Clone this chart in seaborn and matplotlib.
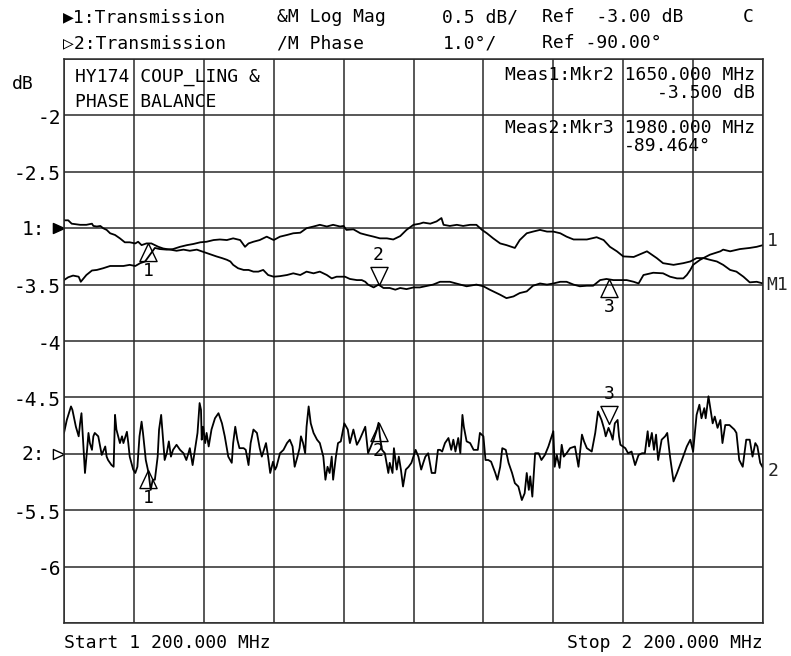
import numpy as np
import pandas as pd
import matplotlib
matplotlib.use("Agg")
import matplotlib.pyplot as plt
import matplotlib.transforms as mtransforms
import seaborn as sns

# ---------------- data ----------------
# Trace 1: transmission log magnitude (dB)
t1_freq = [1200, 1206, 1211, 1223, 1232, 1240, 1242, 1247, 1252, 1256, 1261, 1266, 1273, 1280,
           1287, 1294, 1302, 1306, 1311, 1318, 1325, 1330, 1335, 1342, 1352, 1361, 1371, 1380,
           1390, 1397, 1404, 1411, 1418, 1426, 1433, 1438, 1442, 1449, 1457, 1464, 1471, 1478,
           1485, 1492, 1500, 1509, 1519, 1528, 1538, 1547, 1557, 1566, 1576, 1583, 1590, 1597,
           1602, 1609, 1619, 1626, 1631, 1635, 1643, 1650, 1657, 1666, 1674, 1681, 1690, 1700,
           1709, 1728, 1738, 1752, 1767, 1776, 1790, 1800, 1809, 1824, 1833, 1843, 1852, 1862,
           1871, 1881, 1891, 1900, 1910, 1919, 1929, 1938, 1948, 1957, 1967, 1976, 1986, 1995,
           2005, 2015, 2022, 2029, 2043, 2057, 2067, 2077, 2086, 2091, 2096, 2100, 2110, 2124,
           2139, 2143, 2153, 2167, 2181, 2191, 2200]
t1_db = [-2.93, -2.93, -2.96, -2.97, -2.97, -2.96, -2.98, -2.985, -2.98, -3.00, -3.015, -3.045,
         -3.06, -3.09, -3.125, -3.125, -3.135, -3.12, -3.15, -3.135, -3.135, -3.15, -3.165, -3.18,
         -3.19, -3.20, -3.19, -3.20, -3.19, -3.205, -3.22, -3.235, -3.25, -3.265, -3.28, -3.295,
         -3.325, -3.355, -3.37, -3.37, -3.385, -3.385, -3.37, -3.415, -3.43, -3.425, -3.415, -3.40,
         -3.415, -3.385, -3.40, -3.385, -3.415, -3.445, -3.43, -3.43, -3.43, -3.45, -3.46, -3.46,
         -3.475, -3.50, -3.525, -3.50, -3.53, -3.53, -3.545, -3.53, -3.54, -3.525, -3.525, -3.50,
         -3.475, -3.475, -3.50, -3.515, -3.50, -3.515, -3.545, -3.59, -3.62, -3.605, -3.575, -3.56,
         -3.51, -3.49, -3.50, -3.49, -3.475, -3.475, -3.50, -3.515, -3.51, -3.51, -3.46, -3.45,
         -3.46, -3.46, -3.46, -3.475, -3.49, -3.415, -3.395, -3.40, -3.43, -3.445, -3.445, -3.415,
         -3.37, -3.325, -3.28, -3.235, -3.205, -3.19, -3.205, -3.185, -3.175, -3.165, -3.15]

# Memory trace M1 (dB)
m1_freq = [1200, 1206, 1213, 1221, 1224, 1228, 1232, 1240, 1247, 1256, 1266, 1275, 1285, 1294,
           1302, 1309, 1316, 1323, 1330, 1337, 1347, 1356, 1366, 1376, 1385, 1395, 1404, 1414,
           1423, 1433, 1442, 1452, 1459, 1464, 1471, 1480, 1490, 1500, 1509, 1519, 1528, 1538,
           1547, 1557, 1566, 1576, 1585, 1595, 1600, 1604, 1614, 1624, 1633, 1643, 1652, 1662,
           1671, 1681, 1690, 1700, 1709, 1714, 1724, 1733, 1740, 1743, 1752, 1762, 1771, 1781,
           1790, 1798, 1805, 1814, 1824, 1833, 1845, 1852, 1862, 1871, 1881, 1891, 1900, 1910,
           1919, 1929, 1948, 1962, 1972, 1981, 1991, 2000, 2015, 2034, 2048, 2057, 2072, 2086,
           2096, 2105, 2115, 2124, 2134, 2143, 2153, 2162, 2172, 2181, 2191, 2200]
m1_db = [-3.46, -3.435, -3.42, -3.43, -3.475, -3.445, -3.415, -3.375, -3.37, -3.355, -3.335,
         -3.335, -3.335, -3.325, -3.335, -3.31, -3.295, -3.235, -3.175, -3.185, -3.19, -3.185,
         -3.165, -3.15, -3.14, -3.125, -3.12, -3.105, -3.10, -3.105, -3.09, -3.105, -3.165, -3.135,
         -3.12, -3.105, -3.075, -3.105, -3.075, -3.06, -3.045, -3.04, -3.00, -2.985, -2.97, -2.985,
         -2.97, -2.985, -2.98, -3.015, -3.01, -3.045, -3.06, -3.075, -3.09, -3.09, -3.10, -3.07,
         -3.015, -2.97, -2.96, -2.95, -2.96, -2.94, -2.91, -2.97, -2.98, -2.97, -2.98, -2.97,
         -2.97, -3.015, -3.045, -3.09, -3.135, -3.15, -3.175, -3.105, -3.045, -3.03, -3.015, -3.03,
         -3.03, -3.045, -3.075, -3.10, -3.10, -3.08, -3.105, -3.165, -3.205, -3.25, -3.255, -3.205,
         -3.265, -3.31, -3.325, -3.31, -3.295, -3.265, -3.265, -3.28, -3.295, -3.325, -3.37,
         -3.385, -3.43, -3.48, -3.475, -3.49]

# Trace 2: transmission phase (degrees)
t2_freq = [1200, 1204, 1210, 1212, 1217, 1221, 1223, 1225, 1228, 1230, 1233, 1235, 1237, 1240,
           1242, 1244, 1249, 1254, 1259, 1261, 1263, 1268, 1271, 1273, 1275, 1280, 1283, 1285,
           1290, 1292, 1294, 1299, 1302, 1305, 1308, 1311, 1313, 1317, 1321, 1324, 1327, 1330,
           1334, 1336, 1339, 1341, 1344, 1347, 1350, 1353, 1356, 1361, 1366, 1371, 1375, 1378,
           1380, 1384, 1387, 1391, 1394, 1396, 1397, 1399, 1402, 1404, 1407, 1411, 1416, 1421,
           1426, 1430, 1435, 1440, 1442, 1445, 1448, 1451, 1457, 1460, 1464, 1467, 1471, 1476,
           1480, 1483, 1486, 1489, 1492, 1495, 1499, 1502, 1504, 1509, 1514, 1519, 1523, 1527,
           1530, 1534, 1537, 1539, 1542, 1545, 1547, 1550, 1553, 1557, 1562, 1566, 1571, 1574,
           1577, 1580, 1583, 1585, 1589, 1592, 1596, 1601, 1606, 1609, 1614, 1619, 1623, 1631,
           1635, 1639, 1643, 1647, 1650, 1652, 1655, 1659, 1664, 1666, 1670, 1672, 1676, 1679,
           1682, 1685, 1689, 1693, 1697, 1703, 1707, 1711, 1714, 1717, 1721, 1726, 1731, 1735,
           1738, 1741, 1745, 1750, 1754, 1757, 1760, 1764, 1767, 1770, 1772, 1776, 1781, 1786,
           1792, 1795, 1800, 1803, 1807, 1811, 1817, 1820, 1824, 1827, 1832, 1836, 1841, 1845,
           1850, 1855, 1859, 1862, 1865, 1867, 1870, 1874, 1879, 1883, 1888, 1893, 1900, 1902,
           1905, 1909, 1912, 1915, 1919, 1924, 1931, 1936, 1941, 1944, 1948, 1955, 1960, 1964,
           1969, 1973, 1975, 1979, 1982, 1985, 1988, 1992, 1994, 1996, 2003, 2007, 2012, 2017,
           2022, 2027, 2031, 2035, 2037, 2041, 2044, 2047, 2050, 2055, 2060, 2063, 2067, 2072,
           2077, 2084, 2091, 2096, 2100, 2103, 2105, 2109, 2112, 2116, 2118, 2122, 2125, 2128,
           2131, 2135, 2139, 2142, 2146, 2152, 2159, 2162, 2166, 2171, 2176, 2181, 2185, 2189,
           2192, 2196, 2200]
t2_deg = [-89.63, -89.40, -89.16, -89.22, -89.52, -89.69, -89.46, -89.28, -89.93, -90.34, -89.93,
          -89.63, -89.81, -89.93, -89.69, -89.63, -89.69, -90.02, -89.87, -90.05, -90.11, -90.20,
          -90.23, -89.31, -89.57, -89.81, -89.69, -89.81, -89.61, -89.81, -90.05, -90.28, -90.34,
          -90.23, -89.69, -89.43, -89.63, -90.11, -90.34, -90.64, -90.46, -90.46, -90.05, -89.57,
          -89.31, -89.63, -90.11, -89.99, -89.78, -90.05, -89.93, -89.84, -89.93, -89.99, -90.11,
          -89.99, -89.90, -90.20, -89.96, -89.63, -89.10, -89.22, -89.75, -89.52, -89.81, -89.63,
          -89.87, -89.57, -89.37, -89.28, -89.46, -89.69, -90.05, -90.16, -89.81, -89.52, -89.75,
          -89.90, -89.90, -89.93, -90.20, -89.81, -89.57, -89.63, -89.90, -90.05, -89.93, -89.81,
          -90.05, -90.34, -90.14, -90.28, -90.23, -89.99, -89.93, -89.81, -89.75, -89.87, -90.23,
          -90.05, -89.90, -89.69, -89.81, -89.99, -89.52, -89.16, -89.46, -89.63, -89.75, -89.81,
          -90.05, -90.46, -90.23, -90.34, -90.05, -90.46, -90.05, -89.81, -89.78, -89.46, -89.57,
          -89.81, -89.57, -89.84, -89.75, -89.52, -89.99, -89.87, -89.75, -89.60, -89.45, -89.70,
          -89.93, -89.99, -90.34, -90.16, -90.34, -89.90, -90.28, -90.05, -90.28, -90.58, -90.28,
          -90.23, -90.16, -89.93, -90.05, -90.28, -90.16, -90.05, -89.99, -90.34, -90.34, -89.93,
          -89.93, -89.96, -89.81, -89.72, -89.93, -89.75, -89.96, -89.72, -89.99, -89.31, -89.52,
          -89.78, -89.81, -89.93, -89.93, -89.63, -89.69, -90.11, -90.11, -90.14, -90.34, -90.46,
          -90.23, -89.90, -89.93, -90.16, -90.34, -90.52, -90.58, -90.82, -90.70, -90.34, -90.64,
          -90.40, -90.76, -89.99, -89.99, -90.11, -90.02, -89.87, -89.60, -90.23, -90.02, -90.25,
          -89.84, -90.05, -89.99, -89.90, -89.87, -90.23, -89.66, -89.78, -89.90, -89.96, -89.63,
          -89.25, -89.40, -89.57, -89.69, -89.54, -89.63, -89.75, -89.46, -89.40, -89.69, -89.84,
          -89.90, -89.99, -89.96, -90.20, -90.02, -89.99, -89.99, -89.60, -89.87, -89.63, -89.93,
          -89.66, -90.11, -89.75, -89.69, -89.63, -90.05, -90.49, -90.34, -90.11, -89.87, -89.75,
          -89.96, -89.57, -89.31, -89.13, -89.37, -89.19, -89.37, -88.98, -89.22, -89.46, -89.34,
          -89.54, -89.40, -89.81, -89.49, -89.49, -89.57, -89.63, -90.11, -90.23, -89.75, -89.75,
          -90.05, -89.81, -89.87, -90.16, -90.25]

# markers (MHz)
mkr_freq = [1320, 1650, 1980]
mkr_labels = ["1", "2", "3"]
mkr1_dir = ["up", "down", "up"]      # channel 1 marker symbols
mkr2_dir = ["up", "up", "down"]      # channel 2 marker symbols
meas1_value = -3.500                 # Meas1: Mkr2 (dB)
meas2_value = -89.464                # Meas2: Mkr3 (deg)

# scale settings
start_mhz, stop_mhz = 1200, 2200
ch1_ref, ch1_scale = -3.00, 0.5      # dB, dB/div
ch2_ref, ch2_scale = -90.00, 1.0     # deg, deg/div
ytick_vals = [-6.5, -6.0, -5.5, -5.0, -4.5, -4.0, -3.5, -3.0, -2.5, -2.0, -1.5]
ytick_text = ["", "-6", "-5.5", "2:", "-4.5", "-4", "-3.5", "1:", "-2.5", "-2", ""]

# ---------------- helpers ----------------
ch2_ref_pos = -5.0  # display level where channel 2 reference sits


def phase_to_display(deg):
    return ch2_ref_pos + (np.asarray(deg) - ch2_ref) / ch2_scale * ch1_scale


df1 = pd.DataFrame({"freq": t1_freq, "val": t1_db})
dfm = pd.DataFrame({"freq": m1_freq, "val": m1_db})
df2 = pd.DataFrame({"freq": t2_freq, "val": phase_to_display(t2_deg)})

# ---------------- figure ----------------
sns.set_theme(style="white")
plt.rcParams["font.family"] = ["DejaVu Sans Mono", "DejaVu Sans"]
W, H = 791, 656
fig = plt.figure(figsize=(W / 100, H / 100), dpi=100)
ax = fig.add_axes([64 / W, 1 - 623 / H, 699 / W, 564 / H])

FS = 13
ink = "black"

for d in (dfm, df1, df2):
    sns.lineplot(data=d, x="freq", y="val", ax=ax, color=ink, lw=1.3,
                 estimator=None, sort=False, legend=False)

ax.set_xlim(start_mhz, stop_mhz)
ax.set_ylim(-6.5, -1.5)
ax.set_xticks(np.arange(start_mhz, stop_mhz + 1, 100))
ax.set_yticks(ytick_vals)
ax.set_xticklabels([])
ax.set_yticklabels([])
ax.tick_params(length=0)
ax.grid(True, color="#2a2a2a", lw=1.1)
ax.set_axisbelow(True)
for s in ax.spines.values():
    s.set_color("#2a2a2a")
    s.set_linewidth(1.1)
ax.set_xlabel("")
ax.set_ylabel("")

# y labels
blend = mtransforms.blended_transform_factory(ax.transAxes, ax.transData)
for v, t in zip(ytick_vals, ytick_text):
    if not t:
        continue
    if t.endswith(":"):
        tr = blend + mtransforms.ScaledTranslation(-19 / 100, -1 / 100, fig.dpi_scale_trans)
    else:
        tr = blend + mtransforms.ScaledTranslation(-3 / 100, -3 / 100, fig.dpi_scale_trans)
    ax.text(0, v, t, transform=tr, ha="right", va="center", fontsize=FS + 1, color=ink)

# reference arrows
arrow = [(0, 0), (-2, 0.9), (-2, -0.9), (0, 0)]
ax.plot([start_mhz], [ch1_ref], marker=arrow, ms=16, color=ink, mfc=ink, clip_on=False, ls="none")
ax.plot([start_mhz], [ch2_ref_pos], marker=arrow, ms=16, color=ink, mfc="white", mew=1.0,
        clip_on=False, ls="none")

# markers
tri_up = [(0, 0), (-0.95, -2), (0.95, -2), (0, 0)]
tri_dn = [(0, 0), (-0.95, 2), (0.95, 2), (0, 0)]


def draw_marker(f, v, direction, label):
    m = tri_up if direction == "up" else tri_dn
    ax.plot([f], [v], marker=m, ms=26, mfc="none", mec=ink, mew=1.0, ls="none", zorder=5)
    dy = -20 if direction == "up" else 21
    ax.annotate(label, xy=(f, v), xytext=(0, dy), textcoords="offset points",
                ha="center", va="center", fontsize=13, color=ink)


for f, d, lab in zip(mkr_freq, mkr1_dir, mkr_labels):
    v = meas1_value if lab == "2" else np.interp(f, t1_freq, t1_db)
    draw_marker(f, v, d, lab)
for f, d, lab in zip(mkr_freq, mkr2_dir, mkr_labels):
    v = meas2_value if lab == "3" else np.interp(f, t2_freq, t2_deg)
    draw_marker(f, phase_to_display(v), d, lab)

# trace end labels
ax.annotate("1", xy=(stop_mhz, t1_db[-1]), xytext=(3, 3), textcoords="offset points",
            ha="left", va="center", fontsize=13, annotation_clip=False)
ax.annotate("M1", xy=(stop_mhz, m1_db[-1]), xytext=(2, -1), textcoords="offset points",
            ha="left", va="center", fontsize=13, annotation_clip=False)
ax.annotate("2", xy=(stop_mhz, phase_to_display(t2_deg[-1])), xytext=(3, -2),
            textcoords="offset points", ha="left", va="center", fontsize=13,
            annotation_clip=False)


def ftext(x, y, s, **kw):
    kw.setdefault("fontsize", FS)
    kw.setdefault("va", "center")
    kw.setdefault("color", ink)
    fig.text(x / W, 1 - y / H, s, **kw)


# header
ftext(63, 17, "\u25b61:Transmission")
ftext(277, 17, "&M Log Mag")
ftext(442, 17, f"{ch1_scale:.1f} dB/")
ftext(542, 17, f"Ref  {ch1_ref:.2f} dB")
ftext(743, 17, "C")
ftext(63, 43, "\u25b72:Transmission")
ftext(277, 43, "/M Phase")
ftext(443, 43, f"{ch2_scale:.1f}\u00b0/")
ftext(542, 43, f"Ref {ch2_ref:.2f}\u00b0")

ftext(12, 84, "dB")

# in-plot annotations
ftext(75, 77, "HY174 COUP_LING &")
ftext(75, 102, "PHASE BALANCE")
ftext(755, 75, f"Meas1:Mkr2 {mkr_freq[1]:.3f} MHz", ha="right")
ftext(755, 93, f"{meas1_value:.3f} dB", ha="right")
ftext(755, 128, f"Meas2:Mkr3 {mkr_freq[2]:.3f} MHz", ha="right")
ftext(624, 146, f"{meas2_value:.3f}\u00b0", ha="left")

# footer
ftext(64, 643, "Start 1 200.000 MHz")
ftext(763, 643, "Stop 2 200.000 MHz", ha="right")

fig.savefig("out.png", dpi=100, facecolor="white")
